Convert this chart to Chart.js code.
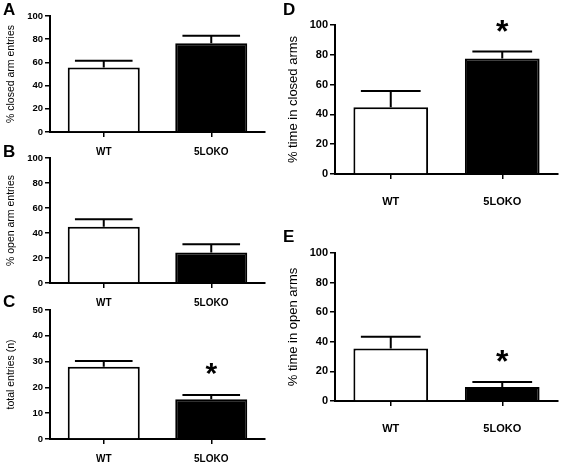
<!DOCTYPE html>
<html>
<head>
<meta charset="utf-8">
<script src="https://cdn.jsdelivr.net/npm/chart.js@4.4.1/dist/chart.umd.min.js"></script>
<style>
  body { margin: 0; background: #fff; }
  #wrap { position: relative; width: 563px; height: 467px; overflow: hidden; }
  #wrap canvas { position: absolute; left: 0; top: 0; }
  .lbl { position: absolute; font: bold 17px "Liberation Sans", Arial, sans-serif; line-height: 1; color: #000; }
</style>
</head>
<body>
<div id="wrap">
  <canvas id="chartA" width="563" height="467"></canvas>
  <canvas id="chartB" width="563" height="467"></canvas>
  <canvas id="chartC" width="563" height="467"></canvas>
  <canvas id="chartD" width="563" height="467"></canvas>
  <canvas id="chartE" width="563" height="467"></canvas>
  <div class="lbl" style="left:3px;top:1px">A</div>
  <div class="lbl" style="left:3px;top:143px">B</div>
  <div class="lbl" style="left:3px;top:293px">C</div>
  <div class="lbl" style="left:283px;top:1px">D</div>
  <div class="lbl" style="left:283px;top:228px">E</div>
</div>
<script>
// data (mean, SEM)
const groups = ["WT", "5LOKO"];

const closedEntries = [55.5, 76.5];
const closedEntriesErr = [6.0, 6.5];
const openEntries = [45.0, 24.5];
const openEntriesErr = [6.0, 6.5];
const totalEntries = [28.0, 15.4];
const totalEntriesErr = [2.2, 1.7];
const timeClosed = [44.8, 77.6];
const timeClosedErr = [10.9, 4.6];
const timeOpen = [35.5, 9.4];
const timeOpenErr = [7.9, 3.4];

const sigC = [false, true];
const sigD = [false, true];
const sigE = [false, true];

const barFill = ["#ffffff", "#000000"];
const FONT = '"Liberation Sans", Arial, sans-serif';

// draws upper error bar + asterisk
const errorPlugin = {
  id: "errbars",
  afterDatasetsDraw(chart, args, opts) {
    const ctx = chart.ctx;
    const meta = chart.getDatasetMeta(0);
    const y = chart.scales.y;
    const vals = chart.data.datasets[0].data;
    ctx.save();
    ctx.strokeStyle = "#000";
    ctx.lineWidth = 2;
    meta.data.forEach((bar, i) => {
      const top = y.getPixelForValue(vals[i] + opts.err[i]);
      const half = bar.width * 0.4;
      ctx.beginPath();
      ctx.moveTo(bar.x, bar.y);
      ctx.lineTo(bar.x, top);
      ctx.moveTo(bar.x - half, top);
      ctx.lineTo(bar.x + half, top);
      ctx.stroke();
      if (opts.sig && opts.sig[i]) {
        ctx.fillStyle = "#000";
        ctx.font = "bold " + opts.starSize + "px " + FONT;
        ctx.textAlign = "center";
        ctx.textBaseline = "alphabetic";
        const m = ctx.measureText("*");
        const cy = top - opts.starGap;
        ctx.fillText("*", bar.x, cy + (m.actualBoundingBoxAscent - m.actualBoundingBoxDescent) / 2);
      }
    });
    ctx.restore();
  }
};

function makePanel(id, g, values, err, sig, yMax, yStep, title) {
  const yw = g.yw, xh = g.xh;
  return new Chart(document.getElementById(id), {
    type: "bar",
    data: {
      labels: groups,
      datasets: [{
        data: values,
        backgroundColor: barFill,
        borderColor: "#000",
        borderWidth: 2,
        barPercentage: 0.67,
        categoryPercentage: 1.0
      }]
    },
    plugins: [errorPlugin],
    options: {
      responsive: false,
      animation: false,
      events: [],
      layout: {
        padding: { left: g.left - yw, top: g.top, right: 563 - g.right, bottom: 467 - g.bottom - xh }
      },
      plugins: {
        legend: { display: false },
        tooltip: { enabled: false },
        errbars: { err: err, sig: sig, starSize: g.star, starGap: 26 }
      },
      scales: {
        x: {
          offset: true,
          grid: { display: true, offset: false, drawOnChartArea: false, drawTicks: true, tickLength: 5, color: "#000", lineWidth: 1.5 },
          border: { display: true, color: "#000", width: 2 },
          ticks: { color: "#000", font: { family: FONT, size: g.xFont, weight: "bold" }, padding: g.xPad, maxRotation: 0 },
          afterFit(s) { s.height = xh; s.paddingLeft = 0; s.paddingRight = 0; }
        },
        y: {
          min: 0,
          max: yMax,
          grid: { display: true, drawOnChartArea: false, drawTicks: true, tickLength: 5, color: "#000", lineWidth: 1.5 },
          border: { display: true, color: "#000", width: 2 },
          ticks: { stepSize: yStep, color: "#000", font: { family: FONT, size: g.yFont, weight: "bold" }, padding: 2 },
          title: { display: true, text: title, color: "#000", font: { family: FONT, size: g.tFont }, padding: { top: g.tPad, bottom: 0 } },
          afterFit(s) { s.width = yw; s.paddingTop = 0; s.paddingBottom = 0; }
        }
      }
    }
  });
}

const small = { yw: 50, xh: 30, left: 50, right: 265, xFont: 10, yFont: 9.5, tFont: 10.5, tPad: 4.5, xPad: 9, star: 30 };
const big = { yw: 55, xh: 40, left: 335, right: 558, xFont: 11, yFont: 11, tFont: 13, tPad: 6, xPad: 16, star: 32 };

makePanel("chartA", Object.assign({}, small, { top: 16, bottom: 132 }), closedEntries, closedEntriesErr, null, 100, 20, "% closed arm entries");
makePanel("chartB", Object.assign({}, small, { top: 158, bottom: 283 }), openEntries, openEntriesErr, null, 100, 20, "% open arm entries");
makePanel("chartC", Object.assign({}, small, { top: 310, bottom: 439 }), totalEntries, totalEntriesErr, sigC, 50, 10, "total entries (n)");
makePanel("chartD", Object.assign({}, big, { top: 25, bottom: 174 }), timeClosed, timeClosedErr, sigD, 100, 20, "% time in closed arms");
makePanel("chartE", Object.assign({}, big, { top: 253, bottom: 401 }), timeOpen, timeOpenErr, sigE, 100, 20, "% time in open arms");
</script>
</body>
</html>
